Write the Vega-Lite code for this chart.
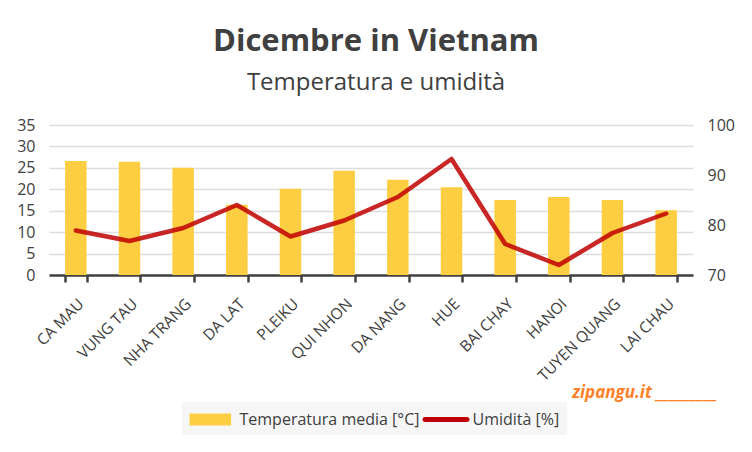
{
  "$schema": "https://vega.github.io/schema/vega-lite/v6.json",
  "width": 644,
  "height": 150,
  "autosize": {"type": "none"},
  "padding": {"left": 49, "top": 125, "right": 59, "bottom": 177},
  "background": "white",
  "title": {
    "text": "Dicembre in Vietnam",
    "subtitle": "Temperatura e umidità",
    "anchor": "middle",
    "dx": 5,
    "font": "Open Sans",
    "fontSize": 31,
    "fontWeight": "bold",
    "color": "#404040",
    "subtitleFont": "Open Sans",
    "subtitleFontSize": 24,
    "subtitleColor": "#404040",
    "subtitlePadding": 13,
    "offset": 21
  },
  "data": {
    "values": [
      {"city": "CA MAU", "temp": 26.6, "hum": 78.9},
      {"city": "VUNG TAU", "temp": 26.4, "hum": 76.8},
      {"city": "NHA TRANG", "temp": 25.0, "hum": 79.4},
      {"city": "DA LAT", "temp": 16.4, "hum": 84.0},
      {"city": "PLEIKU", "temp": 20.1, "hum": 77.7},
      {"city": "QUI NHON", "temp": 24.3, "hum": 80.9},
      {"city": "DA NANG", "temp": 22.2, "hum": 85.6},
      {"city": "HUE", "temp": 20.5, "hum": 93.2},
      {"city": "BAI CHAY", "temp": 17.5, "hum": 76.2},
      {"city": "HANOI", "temp": 18.2, "hum": 72.0},
      {"city": "TUYEN QUANG", "temp": 17.5, "hum": 78.4},
      {"city": "LAI CHAU", "temp": 15.1, "hum": 82.3}
    ]
  },
  "encoding": {
    "x": {
      "field": "city",
      "type": "nominal",
      "sort": null,
      "scale": {"paddingInner": 0.6, "paddingOuter": 0.3},
      "axis": {
        "title": "zipangu.it _________",
        "titleFont": "Open Sans",
        "titleFontSize": 17,
        "titleFontWeight": "bold",
        "titleFontStyle": "italic",
        "titleColor": "#ff7f27",
        "titleX": 668,
        "titleY": 122,
        "titleAlign": "right",
        "titleBaseline": "alphabetic",
        "labelAngle": -45,
        "labelFont": "Open Sans",
        "labelFontSize": 15.5,
        "labelColor": "#404040",
        "labelPadding": 14,
        "domainColor": "#404040",
        "domainWidth": 2.5,
        "tickColor": "#404040",
        "tickWidth": 2.5,
        "tickSize": 7,
        "tickBand": "extent",
        "grid": false
      }
    }
  },
  "layer": [
    {
      "mark": {"type": "bar"},
      "encoding": {
        "y": {
          "field": "temp",
          "type": "quantitative",
          "scale": {"domain": [0, 35], "nice": false},
          "axis": {
            "title": null,
            "values": [0, 5, 10, 15, 20, 25, 30, 35],
            "domain": false,
            "ticks": false,
            "labelPadding": 14,
            "labelFont": "Open Sans",
            "labelFontSize": 16,
            "labelColor": "#404040",
            "grid": true,
            "gridWidth": 1.5,
            "encode": {
              "grid": {
                "update": {
                  "stroke": {"signal": "datum.value >= 35 ? '#e6e6e6' : datum.value >= 30 ? '#dedede' : datum.value >= 25 ? '#d4d4d4' : datum.value >= 20 ? '#c9c9c9' : datum.value >= 15 ? '#bdbdbd' : datum.value >= 10 ? '#afafaf' : '#a0a0a0'"}
                }
              }
            }
          }
        },
        "color": {
          "datum": "Temperatura media [°C]",
          "scale": {
            "domain": ["Temperatura media [°C]", "Umidità [%]"],
            "range": ["#fdcd42", "#c00000"]
          },
          "legend": {
            "title": null,
            "orient": "none",
            "legendX": 133,
            "legendY": 277,
            "direction": "horizontal",
            "fillColor": "#f6f6f6",
            "padding": 7.5,
            "symbolSize": 400,
            "symbolStrokeWidth": 0,
            "labelFont": "Open Sans",
            "labelFontSize": 16,
            "labelColor": "#404040",
            "labelLimit": 400,
            "labelOffset": 30,
            "columnPadding": 3,
            "encode": {
              "symbols": {
                "update": {
                  "shape": {"signal": "datum.value === 'Umidità [%]' ? 'M-0.75,-0.25H3.45A0.25,0.25,0,0,1,3.45,0.25H-0.75A0.25,0.25,0,0,1,-0.75,-0.25Z' : 'M-1,-0.6H3.16V0.6H-1Z'"},
                  "fill": {"signal": "datum.value === 'Umidità [%]' ? '#c81f1f' : '#fdcd42'"},
                  "stroke": {"value": "transparent"},
                  "opacity": {"value": 1},
                  "fillOpacity": {"value": 1}
                }
              }
            }
          }
        }
      }
    },
    {
      "mark": {
        "type": "line",
        "strokeWidth": 4.5,
        "opacity": 0.85,
        "strokeCap": "round",
        "strokeJoin": "round"
      },
      "encoding": {
        "y": {
          "field": "hum",
          "type": "quantitative",
          "scale": {"domain": [70, 100], "nice": false},
          "axis": {
            "title": null,
            "orient": "right",
            "values": [70, 80, 90, 100],
            "domain": false,
            "ticks": false,
            "grid": false,
            "labelPadding": 14,
            "labelFont": "Open Sans",
            "labelFontSize": 16,
            "labelColor": "#404040"
          }
        },
        "color": {"datum": "Umidità [%]"}
      }
    }
  ],
  "resolve": {"scale": {"y": "independent"}},
  "config": {
    "view": {"stroke": null}
  }
}
